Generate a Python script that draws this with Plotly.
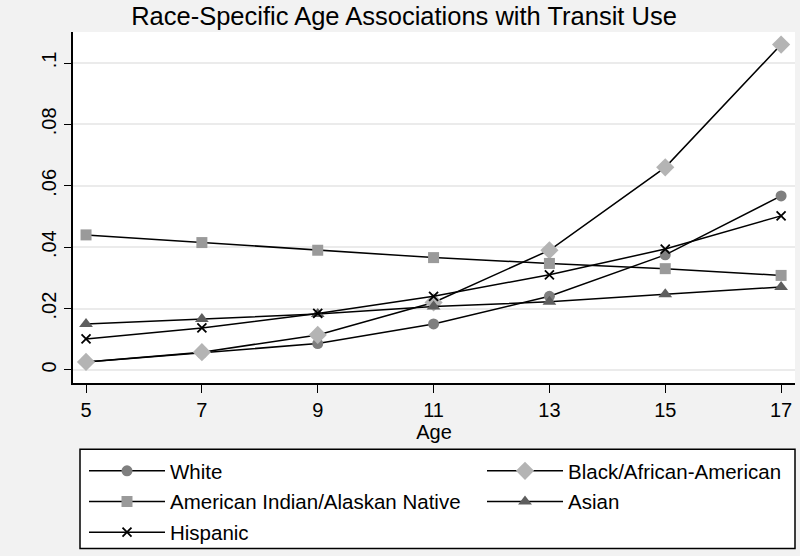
import plotly.graph_objects as go

ages = [5, 7, 9, 11, 13, 15, 17]
white = [0.0026, 0.0055, 0.0086, 0.0150, 0.0240, 0.0375, 0.0567]
black = [0.0026, 0.0058, 0.0114, 0.0220, 0.0390, 0.0660, 0.1060]
aian = [0.0440, 0.0415, 0.0390, 0.0366, 0.0347, 0.0330, 0.0308]
asian = [0.0150, 0.0166, 0.0182, 0.0207, 0.0222, 0.0247, 0.0270]
hispanic = [0.0101, 0.0137, 0.0184, 0.0240, 0.0310, 0.0394, 0.0502]

names = ["White", "Black/African-American", "American Indian/Alaskan Native", "Asian", "Hispanic"]
ytick_vals = [0, 0.02, 0.04, 0.06, 0.08, 0.1]
ytick_text = ["0", ".02", ".04", ".06", ".08", ".1"]
xtick_vals = [5, 7, 9, 11, 13, 15, 17]

FONT = "Arial, Liberation Sans, sans-serif"

series = [
    (names[0], white, dict(symbol="circle", size=11, color="#7f7f7f"), "legend"),
    (names[1], black, dict(symbol="diamond", size=14, color="#b4b4b4"), "legend2"),
    (names[2], aian, dict(symbol="square", size=11, color="#9a9a9a"), "legend"),
    (names[3], asian, dict(symbol="triangle-up", size=12, color="#5e5e5e"), "legend2"),
    (names[4], hispanic, dict(symbol="x-thin", size=9, color="black",
                              line=dict(color="black", width=1.8)), "legend"),
]

fig = go.Figure()
for i, (nm, vals, mk, lg) in enumerate(series):
    fig.add_trace(go.Scatter(
        x=ages, y=vals, name=nm, mode="lines+markers",
        line=dict(color="black", width=1.5),
        marker=mk, legend=lg, legendgroup=nm,
    ))

fig.update_layout(
    width=800, height=556,
    paper_bgcolor="#f2f2f2", plot_bgcolor="white",
    margin=dict(l=73, r=5, t=32, b=173, autoexpand=False),
    font=dict(family=FONT, size=20, color="black"),
    title=dict(text="Race-Specific Age Associations with Transit Use",
               x=404 / 800, xref="container", xanchor="center",
               y=1 - 16 / 556, yanchor="middle",
               font=dict(size=25.5, family=FONT, color="black")),
    xaxis=dict(range=[4.775, 17.24], tickvals=xtick_vals, ticks="outside",
               ticklen=8, tickcolor="black", showgrid=False, zeroline=False,
               showline=True, linecolor="black", linewidth=1.5,
               title=dict(text="Age", standoff=2, font=dict(size=20)),
               tickfont=dict(size=20)),
    yaxis=dict(range=[-0.00425, 0.1101], tickvals=ytick_vals, ticktext=ytick_text,
               ticks="outside", ticklen=7, tickcolor="black", tickangle=-90,
               showgrid=True, gridcolor="#ebebeb", gridwidth=1.5, zeroline=False,
               showline=True, linecolor="black", linewidth=1.5,
               tickfont=dict(size=20)),
    legend=dict(xref="container", yref="container", x=84 / 800, y=1 - 451 / 556,
                xanchor="left", yanchor="top", orientation="v",
                bgcolor="rgba(0,0,0,0)", borderwidth=0, tracegroupgap=1,
                font=dict(size=20.5, family=FONT), itemwidth=76),
    legend2=dict(xref="container", yref="container", x=482 / 800, y=1 - 451 / 556,
                 xanchor="left", yanchor="top", orientation="v",
                 bgcolor="rgba(0,0,0,0)", borderwidth=0, tracegroupgap=1,
                 font=dict(size=20.5, family=FONT), itemwidth=76),
    shapes=[dict(type="rect", xref="paper", yref="paper",
                 x0=(80 - 73) / 722, x1=(795 - 73) / 722,
                 y0=(383 - 548) / 350, y1=(383 - 449) / 350,
                 line=dict(color="black", width=1.5), fillcolor="white",
                 layer="below")],
)

fig.write_html("out.html", config={"displayModeBar": False},
               post_script="document.body.style.margin='0';document.body.style.overflow='hidden';")
